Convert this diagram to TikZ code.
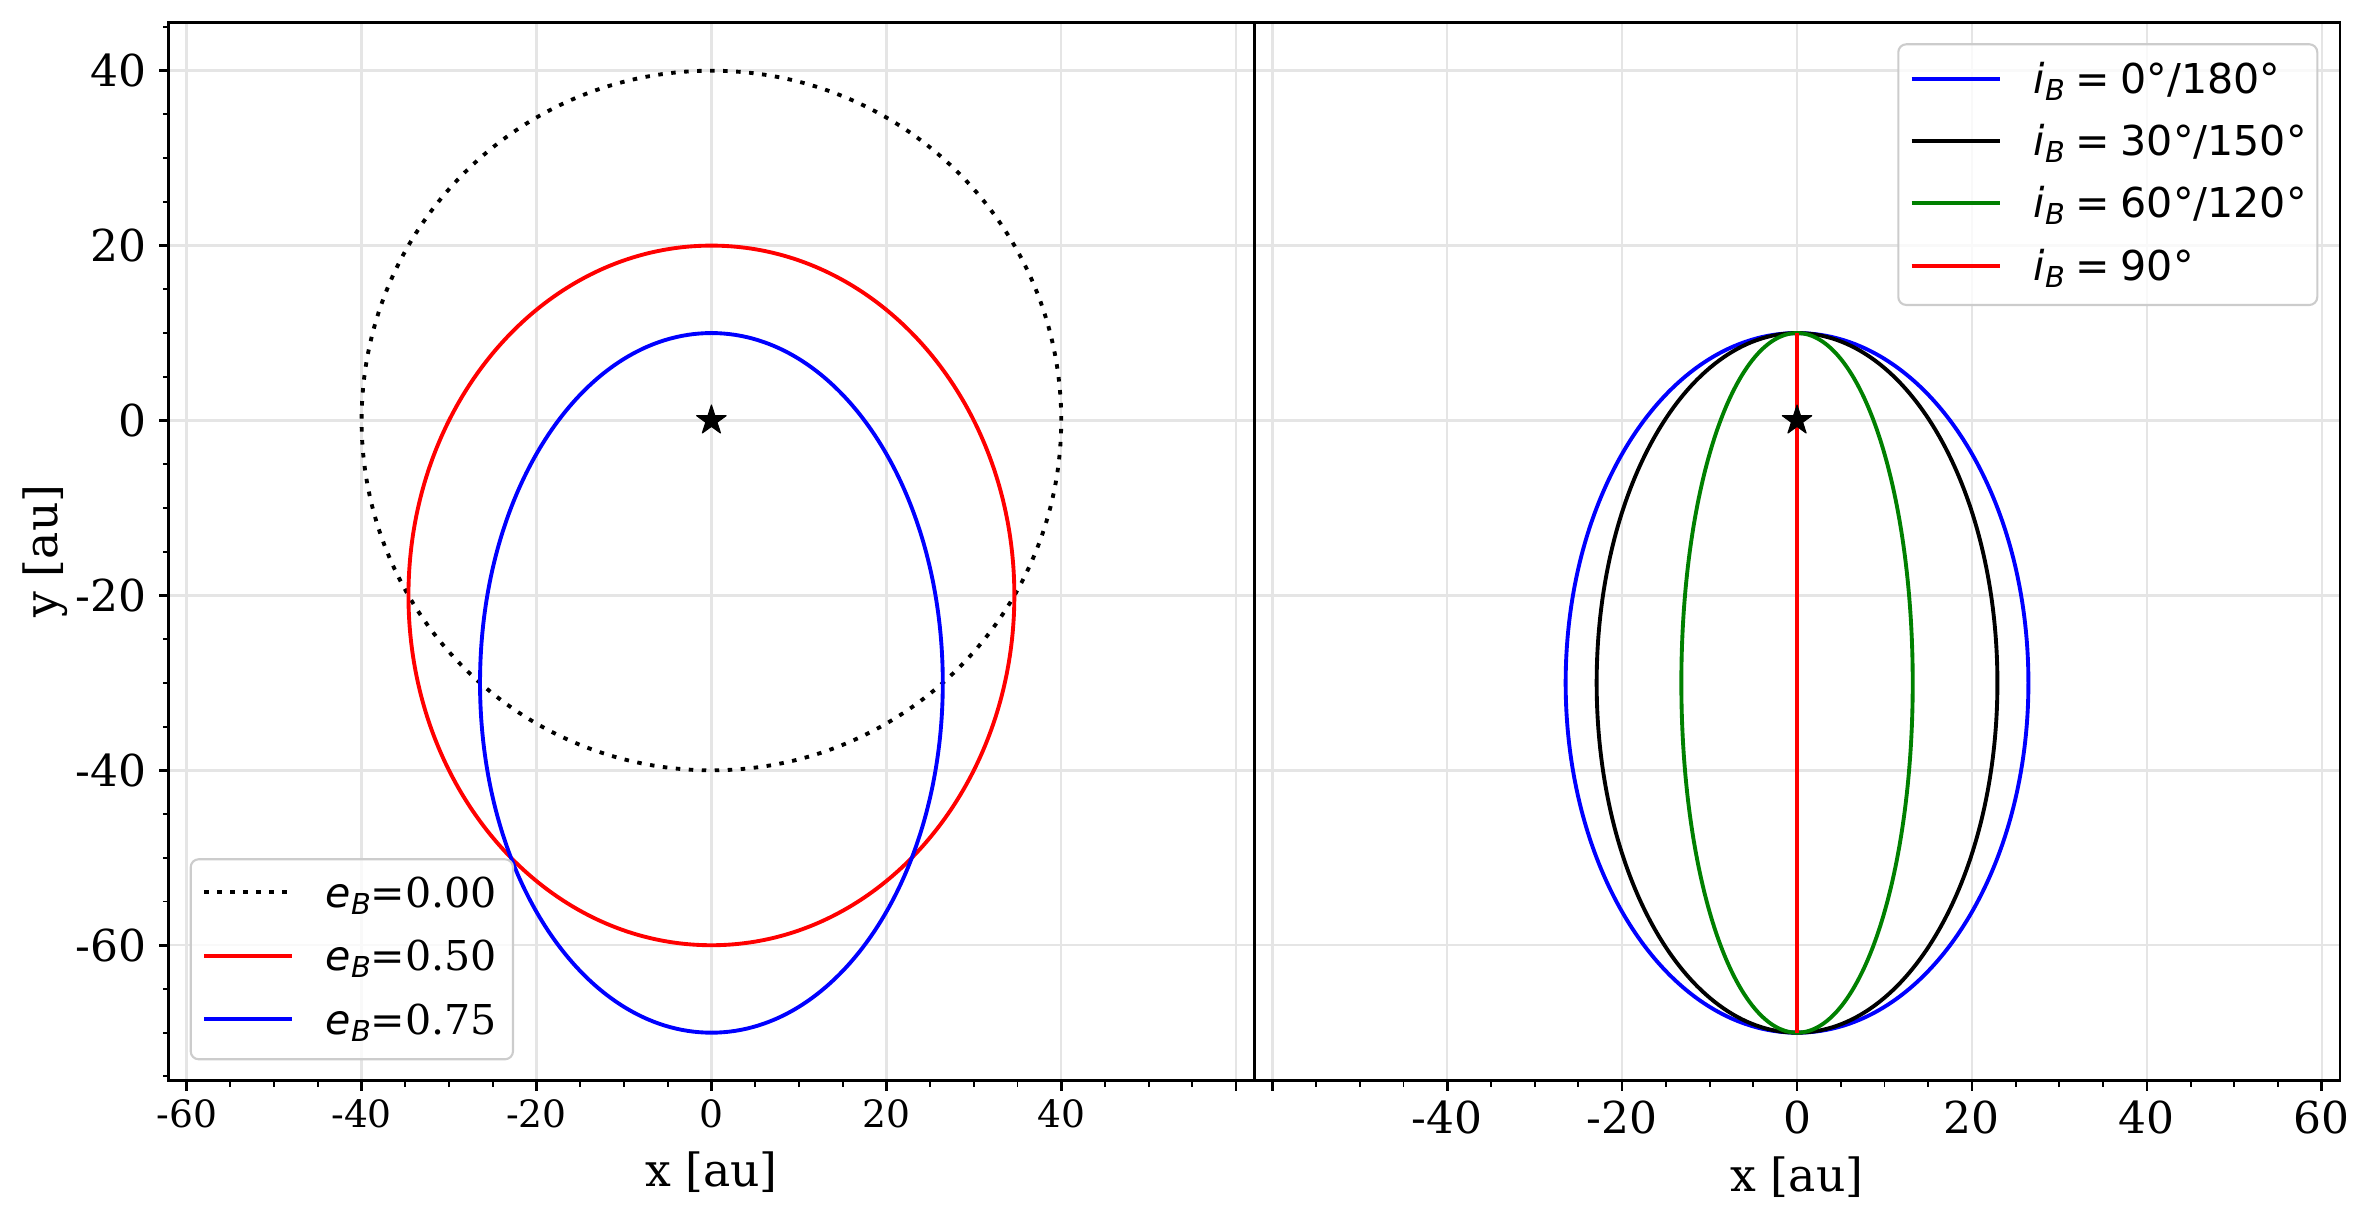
\documentclass[tikz,border=0pt]{standalone}
\usepackage{fontspec}
\setmainfont{DejaVu Serif}
\newfontfamily\legsans{DejaVu Sans}
\usepackage{tikz}
\usetikzlibrary{shapes.geometric,positioning}
\definecolor{mplgreen}{RGB}{0,128,0}
\newcommand\symsub[2]{{\legsans\itshape #1}\raisebox{-0.17em}{\fontsize{8.2pt}{9pt}\selectfont\legsans\itshape #2}}

\begin{document}
\begin{tikzpicture}[x=0.01cm,y=0.01cm,
  spine/.style={line width=0.77pt},
  gridln/.style={black!10,line width=0.7pt},
  majtick/.style={line width=0.77pt},
  mintick/.style={line width=0.55pt},
  orbit/.style={line width=1.1pt},
  dots/.style={orbit,dash pattern=on 0.045cm off 0.085cm},
  ticklab/.style={inner sep=0pt,font=\fontsize{12.5pt}{14pt}\selectfont},
  smalllab/.style={inner sep=0pt,font=\fontsize{10.7pt}{12pt}\selectfont},
  axlab/.style={inner sep=0pt,font=\fontsize{13pt}{15pt}\selectfont},
  legbox/.style={draw=black!20,line width=0.6pt,rounded corners=0.08cm,fill=white,fill opacity=0.8},
  legtext/.style={inner sep=0pt,anchor=base west,font=\fontsize{11.7pt}{13pt}\selectfont},
  starmark/.style={star,star points=5,star point ratio=2.618,minimum size=0.31cm,inner sep=0pt,fill=black,draw=black,line width=0.3pt,line join=round}]

\useasboundingbox (0,0) rectangle (2368,1219);

\begin{scope}[shift={(7.11cm,7.98cm)},x=0.0874cm,y=0.0874cm]
\foreach \g in {-60,-40,...,60} \draw[gridln] (\g,-75.5) -- (\g,45.5);
\foreach \g in {-60,-40,...,40} \draw[gridln] (-62.07,\g) -- (62.07,\g);
\draw[dots] (0,0) circle [radius=40];
\draw[orbit,red] (0,-20) ellipse [x radius=34.641,y radius=40];
\draw[orbit,blue] (0,-30) ellipse [x radius=26.458,y radius=40];
\node[starmark] (starL) at (0,0) {};
\draw[spine] (-62.07,-75.5) rectangle (62.07,45.5);
\foreach \t in {-75,-70,...,45} \draw[mintick] (-62.07,\t) -- ++(-0.06cm,0);
\foreach \t [count=\k] in {-60,-40,...,40}
  \draw[majtick] (-62.07,\t) -- ++(-0.1cm,0) node[ticklab,anchor=east,xshift=-0.105cm] (ylab\k) {\t};
\foreach \t in {-60,-55,...,60} \draw[mintick] (\t,-75.5) -- ++(0,-0.06cm);
\foreach \t in {-60,-40,...,60} \draw[majtick] (\t,-75.5) -- ++(0,-0.1cm);
\foreach \t [count=\k] in {-60,-40,...,40}
  \node[smalllab,yshift=-0.325cm] (xlabL\k) at (\t,-75.5) {\t};
\node[axlab,yshift=-0.915cm] (xtitleL) at (0,-75.5) {x [au]};
\end{scope}

\begin{scope}[shift={(17.96cm,7.98cm)},x=0.0874cm,y=0.0874cm]
\foreach \g in {-60,-40,...,60} \draw[gridln] (\g,-75.5) -- (\g,45.5);
\foreach \g in {-60,-40,...,40} \draw[gridln] (-62.07,\g) -- (62.07,\g);
\draw[orbit,blue] (0,-30) ellipse [x radius=26.458,y radius=40];
\draw[orbit,black] (0,-30) ellipse [x radius=22.913,y radius=40];
\draw[orbit,mplgreen] (0,-30) ellipse [x radius=13.229,y radius=40];
\draw[orbit,red] (0,10) -- (0,-70);
\node[starmark] (starR) at (0,0) {};
\draw[spine] (-62.07,-75.5) rectangle (62.07,45.5);
\foreach \t in {-60,-55,...,60} \draw[mintick] (\t,-75.5) -- ++(0,-0.06cm);
\foreach \t in {-60,-40,...,60} \draw[majtick] (\t,-75.5) -- ++(0,-0.1cm);
\foreach \t [count=\k] in {-40,-20,...,60}
  \node[ticklab,yshift=-0.37cm] (xlabR\k) at (\t,-75.5) {\t};
\node[axlab,yshift=-0.96cm] (xtitleR) at (0,-75.5) {x [au]};
\end{scope}

\node[axlab,rotate=90] (ytitle) at (45,668) {y [au]};

\draw[legbox] (190.7,159.7) rectangle (513,359.7);
\draw[dots] (204.3,326.7) -- (291.7,326.7);
\draw[orbit,red] (204.3,263.3) -- (291.7,263.3);
\draw[orbit,blue] (204.3,200) -- (291.7,200);
\node[legtext] (legA) at (325,311.5) {\symsub{e}{B}=0.00};
\node[legtext] (legB) at (325,248.1) {\symsub{e}{B}=0.50};
\node[legtext] (legC) at (325,184.8) {\symsub{e}{B}=0.75};

\draw[legbox] (1898.3,914) rectangle (2317.3,1174.7);
\draw[orbit,blue] (1911.7,1140) -- (2000,1140);
\draw[orbit,black] (1911.7,1078.3) -- (2000,1078.3);
\draw[orbit,mplgreen] (1911.7,1016.3) -- (2000,1016.3);
\draw[orbit,red] (1911.7,953.3) -- (2000,953.3);
\node[legtext] (legD) at (2033,1125.5) {\legsans\symsub{i}{B}\hspace{0.26em}=\hspace{0.26em}0°/180°};
\node[legtext] (legE) at (2033,1063.8) {\legsans\symsub{i}{B}\hspace{0.26em}=\hspace{0.26em}30°/150°};
\node[legtext] (legF) at (2033,1001.8) {\legsans\symsub{i}{B}\hspace{0.26em}=\hspace{0.26em}60°/120°};
\node[legtext] (legG) at (2033,938.8) {\legsans\symsub{i}{B}\hspace{0.26em}=\hspace{0.26em}90°};
\end{tikzpicture}
\end{document}
